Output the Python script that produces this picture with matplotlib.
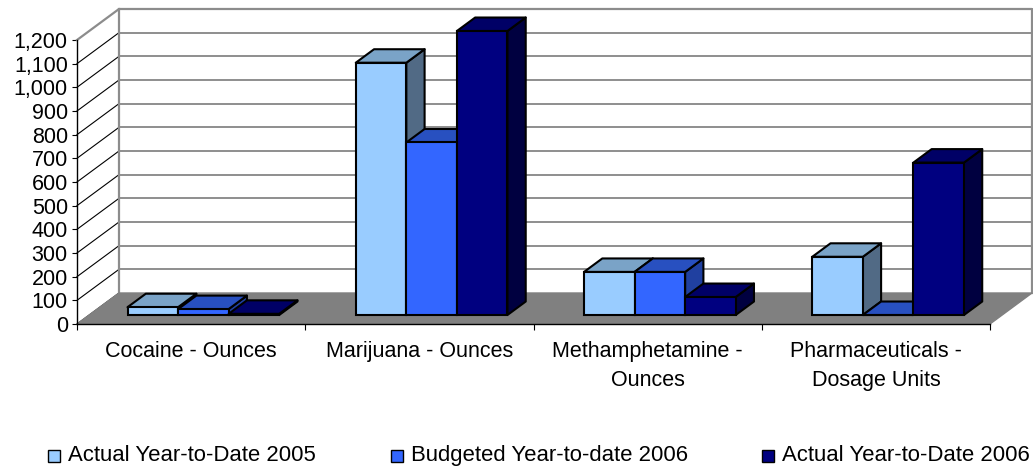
#!/usr/bin/env python3

import numpy as np
import matplotlib
matplotlib.use('Agg')
import matplotlib.pyplot as plt
from matplotlib.patches import Rectangle

plt.rcParams['font.family'] = ['Liberation Sans', 'DejaVu Sans']

categories = ['Cocaine - Ounces', 'Marijuana - Ounces',
              'Methamphetamine -\nOunces', 'Pharmaceuticals -\nDosage Units']
series_names = ['Actual Year-to-Date 2005', 'Budgeted Year-to-date 2006',
                'Actual Year-to-Date 2006']
actual_2005 = [33, 1066, 182, 246]
budget_2006 = [25, 729, 182, 0]
actual_2006 = [5, 1200, 76, 644]
y_ticks = list(range(0, 1300, 100))

front_colors = ['#99CCFF', '#3366FF', '#000080']
top_colors = ['#7AA3C7', '#2850C0', '#000066']
side_colors = ['#516A85', '#2040A0', '#000040']

W, H = 1033, 466
fig = plt.figure(figsize=(W / 100, H / 100), dpi=100)
ax = fig.add_axes([77 / W, (H - 324) / H, 913 / W, 284 / H])
ax.set_xlim(0, 4)
ax.set_ylim(0, 1200)

# depth of the fake 3d box, in data units
dx = 42 / 228.25
dy = 131
# bars sit part way into the floor
fx = dx * 0.29
fy = dy * 0.29
bx = dx * 0.435
by = dy * 0.435
bar_w = 0.2215
bar_start = 0.168

# back wall and floor
ax.fill([dx, 4 + dx, 4 + dx, dx], [dy, dy, 1200 + dy, 1200 + dy], color='white', clip_on=False, zorder=1)
for v in y_ticks[1:]:
    ax.plot([dx, 4 + dx], [v + dy, v + dy], color='#707070', lw=1.1, clip_on=False, zorder=2)
for v in y_ticks[:-1]:
    ax.plot([0, dx], [v, v + dy], color='black', lw=0.8, clip_on=False, zorder=2)
ax.plot([0, dx, 4 + dx, 4 + dx], [1200, 1200 + dy, 1200 + dy, dy], color='#8C8C8C', lw=1.6, clip_on=False, zorder=3)
ax.plot([dx, dx], [dy, 1200 + dy], color='#8C8C8C', lw=1.6, clip_on=False, zorder=3)
ax.fill([0, 4, 4 + dx, dx], [0, 0, dy, dy], color='#808080', clip_on=False, zorder=4)

# bars, drawn left to right so each one hides the side of the one before
z = 5
for i, name in enumerate(categories):
    for j, vals in enumerate([actual_2005, budget_2006, actual_2006]):
        v = vals[i]
        x0 = i + bar_start + fx + j * bar_w
        x1 = x0 + bar_w
        y0 = fy
        y1 = fy + v
        ax.fill([x1, x1 + bx, x1 + bx, x1], [y0, y0 + by, y1 + by, y1], facecolor=side_colors[j],
                edgecolor='black', lw=1.5, joinstyle='round', clip_on=False, zorder=z)
        ax.fill([x0, x1, x1 + bx, x0 + bx], [y1, y1, y1 + by, y1 + by], facecolor=top_colors[j],
                edgecolor='black', lw=1.5, joinstyle='round', clip_on=False, zorder=z + 1)
        ax.bar(x0, v, bar_w, bottom=y0, align='edge', color=front_colors[j], edgecolor='black',
               lw=1.5, clip_on=False, zorder=z + 2)
        z += 3

for s in ['top', 'right']:
    ax.spines[s].set_visible(False)
for s in ['left', 'bottom']:
    ax.spines[s].set_linewidth(1.0)
    ax.spines[s].set_zorder(100)

ax.set_yticks(y_ticks)
ax.set_yticklabels([f'{v:,}' for v in y_ticks], fontsize=15.5)
ax.set_xticks(np.arange(5))
ax.set_xticklabels([])
ax.set_xticks(np.arange(4) + 0.5, minor=True)
ax.set_xticklabels(categories, minor=True, fontsize=15.5, linespacing=1.5)
ax.tick_params(axis='y', length=3.6, width=0.8, pad=3)
ax.tick_params(axis='x', which='major', length=4, width=0.8)
ax.tick_params(axis='x', which='minor', length=0, pad=12)

# legend laid out by hand, the columns are not evenly spaced in the original
legend_x = [48, 391, 762]
for x, name, c in zip(legend_x, series_names, front_colors):
    fig.add_artist(Rectangle((x / W, (H - 462) / H), 12 / W, 12 / H, transform=fig.transFigure,
                             facecolor=c, edgecolor='black', lw=1.0))
    fig.text((x + 20) / W, (H - 461) / H, name, fontsize=15.9, ha='left', va='baseline')

fig.savefig('out.png', dpi=100)
